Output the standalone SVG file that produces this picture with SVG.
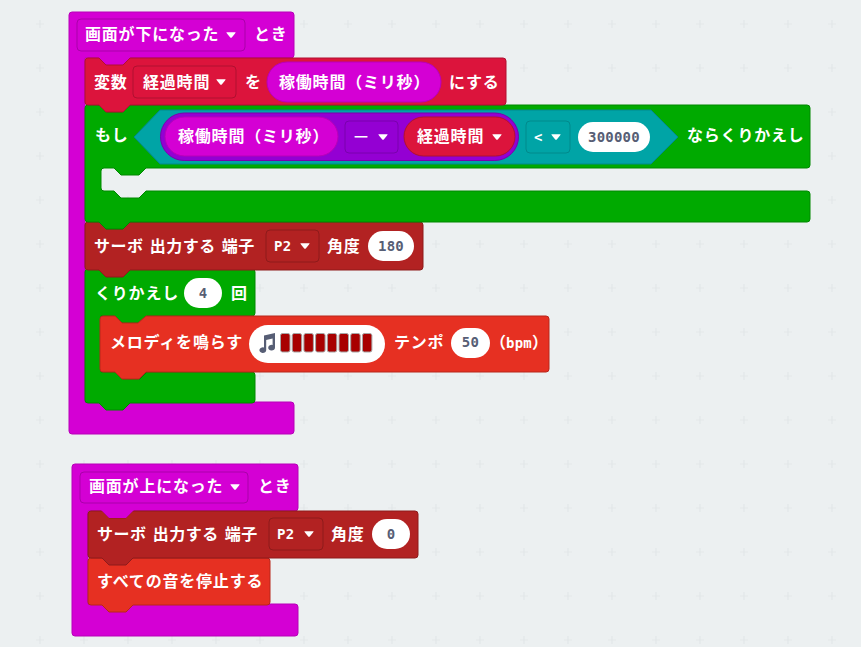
<svg xmlns="http://www.w3.org/2000/svg" width="861" height="647" viewBox="0 0 861 647">
<style>
.t{font-family:"Noto Sans CJK JP","Liberation Sans",sans-serif;font-size:16px;font-weight:700;fill:#fff;letter-spacing:.8px}
.m{font-family:"DejaVu Sans Mono","Liberation Mono",monospace;font-size:14px;font-weight:700;letter-spacing:.2px}
.w{fill:#fff}
.n{fill:#575e75;text-anchor:middle}
.b{stroke-width:1;stroke-linejoin:round}
.hat{fill:#d400d4;stroke:#b800b8}
.var{fill:#dc143c;stroke:#b01030}
.loop{fill:#00aa00;stroke:#008800}
.srv{fill:#b22222;stroke:#8e1b1b}
.mus{fill:#e63022;stroke:#b8261b}
.pw{fill:#fff}
</style>
<defs>
<pattern id="grid" x="18" y="2" width="44" height="44" patternUnits="userSpaceOnUse">
<path d="M18 22h8M22 18v8" stroke="#e3e7e9" stroke-width="1.2" fill="none"/>
</pattern>
<path id="tri" d="M-4.2 -2.8H4.2Q5 -2.8 4.4 -2L1 2.2Q0 3.2 -1 2.2L-4.4 -2Q-5 -2.8 -4.200 -2.8Z" fill="#fff"/>
</defs>
<rect width="861" height="647" fill="#ecf0f1"/>
<rect width="861" height="647" fill="url(#grid)"/>

<g id="hat-down">
<path class="hat b" d="M72 12H291Q294 12 294 15V55Q294 58 291 58H130L123 65H106L99 58H85V402H291Q294 402 294 405V431Q294 434 291 434H72Q69 434 69 431V15Q69 12 72 12Z"/>
<path fill="#d400d4" d="M84 57H131L123 66H106L98 57Z"/>
<rect x="77" y="19" width="168" height="32" rx="4" fill="#d400d4" stroke="#aa00aa"/>
<text class="t" x="85" y="40">画面が下になった</text>
<use href="#tri" x="231" y="35"/>
<text class="t" x="254" y="40">とき</text>
</g>

<g id="repeat">
<path class="loop b" d="M88 269H252Q255 269 255 272V313Q255 316 252 316H147L140 323H122L115 316H101V372H115L122 379H140L147 372H252Q255 372 255 375V400Q255 403 252 403H130L123 410H106L99 403H88Q85 403 85 400V272Q85 269 88 269Z"/>
<text class="t" x="95" y="299">くりかえし</text>
<rect class="pw" x="184" y="278" width="38" height="30" rx="15"/>
<text class="m n" x="203" y="298">4</text>
<text class="t" x="231" y="299">回</text>
</g>

<g id="melody">
<path class="mus b" d="M103 316H115L122 323H138L146 316H546Q549 316 549 319V369Q549 372 546 372H146L139 379H122L115 372H103Q100 372 100 369V319Q100 316 103 316Z"/>
<text class="t" x="110" y="348">メロディを鳴らす</text>
<rect class="pw" x="249" y="325" width="136" height="38" rx="19"/>
<path fill="#575e75" d="M264 335.5L275 333V347.5A3.4 2.8 0 1 1 272.6 345V338.5L266.2 340V350A3.4 2.8 0 1 1 264 347.5Z"/>
<g fill="#a80000" stroke="#a6a6a6" stroke-width="1">
<rect x="280.500" y="333.500" width="9.500" height="18.500" rx="2"/>
<rect x="292.200" y="333.500" width="9.500" height="18.500" rx="2"/>
<rect x="303.900" y="333.500" width="9.500" height="18.500" rx="2"/>
<rect x="315.600" y="333.500" width="9.500" height="18.500" rx="2"/>
<rect x="327.300" y="333.500" width="9.500" height="18.500" rx="2"/>
<rect x="339" y="333.500" width="9.500" height="18.500" rx="2"/>
<rect x="350.700" y="333.500" width="9.500" height="18.500" rx="2"/>
<rect x="362.400" y="333.500" width="9.500" height="18.500" rx="2"/>
</g>
<text class="t" x="394" y="348">テンポ</text>
<rect class="pw" x="451" y="328" width="39" height="30" rx="15"/>
<text class="m n" x="470.500" y="347">50</text>
<text class="t" x="490" y="348" style="letter-spacing:0">（<tspan class="m w">bpm</tspan>）</text>
</g>

<g id="servo-1">
<path class="srv b" d="M88 222H99L106 229H123L130 222H420Q423 222 423 225V267Q423 270 420 270H130L123 277H106L99 270H88Q85 270 85 267V225Q85 222 88 222Z"/>
<text class="t" x="94" y="252" style="letter-spacing:.5px;word-spacing:2px">サーボ 出力する 端子</text>
<rect x="266" y="230" width="53" height="32" rx="4" fill="#b22222" stroke="#8e1b1b"/>
<text class="m w" x="274" y="251">P2</text>
<use href="#tri" x="305" y="246"/>
<text class="t" x="327" y="252">角度</text>
<rect class="pw" x="368" y="231" width="46" height="30" rx="15"/>
<text class="m n" x="391" y="251">180</text>
</g>

<g id="while">
<path class="loop b" d="M88 105H99L106 112H123L130 105H807Q810 105 810 108V165Q810 168 807 168H146L139 175H121L114 168H104Q101 168 101 171V188Q101 191 104 191H114L121 198H139L146 191H807Q810 191 810 194V219Q810 222 807 222H130L123 229H106L99 222H88Q85 222 85 219V108Q85 105 88 105Z"/>
<text class="t" x="95" y="141">もし</text>
<path d="M134 137L160 110H651L678 137L651 164H160Z" fill="#00a4a6" stroke="#008a8c"/>
<rect x="160.500" y="113" width="358" height="47.500" rx="23.700" fill="#9400d3" stroke="#7a00ae"/>
<rect x="165" y="117" width="173" height="39" rx="19.500" fill="#d400d4" stroke="#b800b8"/>
<text class="t" x="178" y="142">稼働時間（ミリ秒）</text>
<rect x="345" y="121" width="53" height="32" rx="4" fill="#9400d3" stroke="#7a00ae"/>
<text class="t" x="353" y="143" style="font-weight:400">ー</text>
<use href="#tri" x="383" y="137"/>
<rect x="404" y="117" width="111" height="39" rx="19.500" fill="#dc143c" stroke="#b01030"/>
<text class="t" x="417" y="142">経過時間</text>
<use href="#tri" x="497" y="137"/>
<rect x="526" y="121" width="44" height="32" rx="4" fill="#00a4a6" stroke="#008a8c"/>
<text class="m w" x="534" y="142">&lt;</text>
<use href="#tri" x="556" y="137"/>
<rect class="pw" x="578" y="122" width="72" height="30" rx="15"/>
<text class="m n" x="614" y="142">300000</text>
<text class="t" x="687" y="141">ならくりかえし</text>
</g>

<g id="set-var">
<path class="var b" d="M88 58H99L106 65H123L130 58H503Q506 58 506 61V102Q506 105 503 105H130L123 112H106L99 105H88Q85 105 85 102V61Q85 58 88 58Z"/>
<text class="t" x="94" y="88">変数</text>
<rect x="133" y="66" width="103" height="32" rx="4" fill="#dc143c" stroke="#b01030"/>
<text class="t" x="143" y="88">経過時間</text>
<use href="#tri" x="221" y="82"/>
<text class="t" x="245" y="88">を</text>
<rect x="267" y="62" width="174" height="40" rx="20" fill="#d400d4" stroke="#b800b8"/>
<text class="t" x="279" y="88">稼働時間（ミリ秒）</text>
<text class="t" x="449" y="88">にする</text>
</g>

<g id="hat-up">
<path class="hat b" d="M75 464H295Q298 464 298 467V508Q298 511 295 511H88V604H295Q298 604 298 607V633Q298 636 295 636H75Q72 636 72 633V467Q72 464 75 464Z"/>
<rect x="80" y="472" width="168" height="31" rx="4" fill="#d400d4" stroke="#aa00aa"/>
<text class="t" x="89" y="492">画面が上になった</text>
<use href="#tri" x="235" y="487"/>
<text class="t" x="258" y="492">とき</text>
</g>

<g id="stop-all">
<path class="mus b" d="M91 558H267Q270 558 270 561V602Q270 605 267 605H133L126 612H109L102 605H91Q88 605 88 602V561Q88 558 91 558Z"/>
<text class="t" x="97" y="587">すべての音を停止する</text>
</g>

<g id="servo-2">
<path class="srv b" d="M91 511H102L109 518H126L133 511H415Q418 511 418 514V555Q418 558 415 558H133L126 565H109L102 558H91Q88 558 88 555V514Q88 511 91 511Z"/>
<path fill="#d400d4" d="M101 510H134L126 518H109Z"/>
<text class="t" x="97" y="540" style="letter-spacing:.5px;word-spacing:2px">サーボ 出力する 端子</text>
<rect x="269" y="518" width="54" height="32" rx="4" fill="#b22222" stroke="#8e1b1b"/>
<text class="m w" x="277" y="539">P2</text>
<use href="#tri" x="309" y="534"/>
<text class="t" x="331" y="540">角度</text>
<rect class="pw" x="372" y="519" width="38" height="30" rx="15"/>
<text class="m n" x="391" y="539">0</text>
</g>
</svg>
